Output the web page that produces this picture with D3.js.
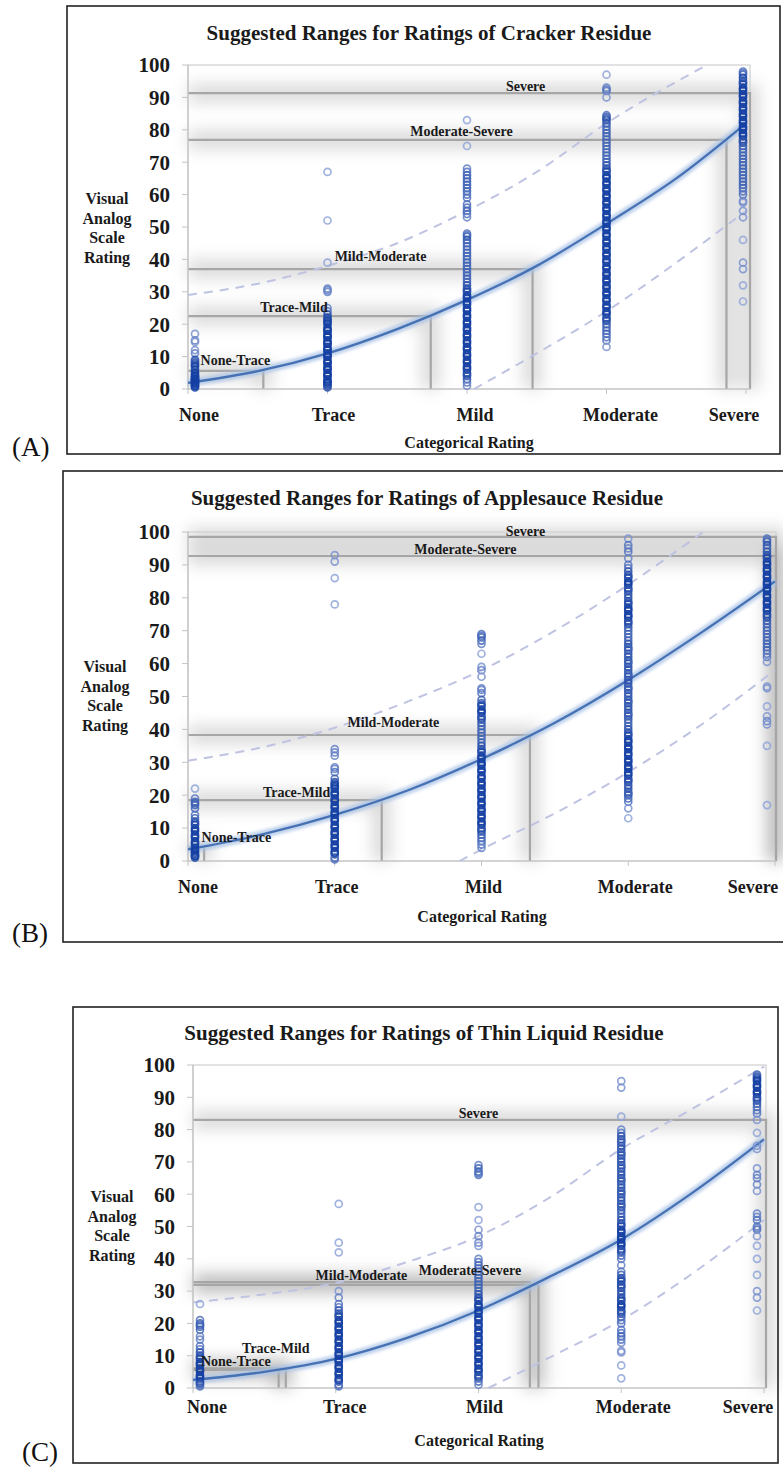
<!DOCTYPE html>
<html><head><meta charset="utf-8">
<script src="https://cdn.jsdelivr.net/npm/d3@7"></script>
<style>
body{margin:0;background:#fff}
svg{display:block}
text{font-family:"Liberation Serif","Times New Roman",serif}
</style>
</head><body>
<svg id="c" width="783" height="1473"></svg>
<script>
// ---------------- DATA ----------------
const categories = ["None", "Trace", "Mild", "Moderate", "Severe"];
const yTicks = [0, 10, 20, 30, 40, 50, 60, 70, 80, 90, 100];
const titles = ["Suggested Ranges for Ratings of Cracker Residue",
                "Suggested Ranges for Ratings of Applesauce Residue",
                "Suggested Ranges for Ratings of Thin Liquid Residue"];
const panelLetters = ["(A)", "(B)", "(C)"];
const yAxisTitle = ["Visual", "Analog", "Scale", "Rating"];
const xAxisTitle = "Categorical Rating";
const thresholdNames = ["None-Trace", "Trace-Mild", "Mild-Moderate", "Moderate-Severe", "Severe"];

// (A) Cracker
const crackerCut = [5.6, 22.5, 37, 76.9, 91.3];
const crackerCutAt = [0.54, 1.74, 2.47, 3.86, null];
const crackerLabelAt = [0.34, 0.76, 1.38, 1.96, 2.42];
const crackerLabelVal = [9.0, 25.3, 41, 79.6, 93.5];
const crackerFitX = [0, 0.5, 1, 1.5, 2, 2.5, 3, 3.5, 4];
const crackerFit = [1.9, 5.5, 11, 18.5, 27.5, 38, 51, 65, 82];
const crackerUpperX = [0, 0.5, 1, 1.5, 2, 2.5, 3, 3.72];
const crackerUpper = [29, 32.5, 38, 45, 55, 67, 82, 100];
const crackerLowerX = [2.05, 2.5, 3, 3.5, 4];
const crackerLower = [0, 11, 24, 39, 55];
const crackerNone = [17,15,14.5,12,11,9,8.5,8,7.5,7,6,5,4.5,4,3.5,3,3,2.5,2,2,1.5,1,1,0.5,3.8,2.8,1.8];
const crackerTrace = [67,52,39,31,30.5,30,25,24,23,22,21.5,21,20.5,20,19,18.5,18,17,16.5,16,15,14.5,14,13,12.5,12,11,10.5,10,9,8.5,8,7,6.5,6,5,4.5,4,3,2.5,2,1.5,1,0.5,18,16,14,12,10,8,6,4,2];
const crackerMild = [83,75,68,67,66,65,64,63,62,61,60,59,57,56,55,54,53,48,47.5,47,46,45,44,43,42,41,40,39,38,37,36,35,34,33,32,31,30,29,28,27,26,25,24,23,22,21,20,19,18,17,16,15,14,13,12,11,10,9,8,7,6,5,4,3,2,1,30.5,28.5,26.5,24.5,22.5,20.5,18.5,16.5,14.5,12.5,10.5,8.5,6.5,4.5];
const crackerModerate = [97,93,92.5,92,90,84.5,84,83.5,83,82,81,80,79,78,77,76,75,74,73,72,71,70,69,68,67,66,65,64,63,62,61,60,59,58,57,56,55,54,53,52,51,50,49,48,47,46,45,44,43,42,41,40,39,38,37,36,35,34,33,32,31,30,29,28,27,26,25,24,23,22,21,20,19,18,17,16,15,13,67.5,65.5,63.5,61.5,59.5,57.5,55.5,53.5,51.5,49.5,47.5,45.5,43.5,41.5,39.5,37.5,35.5,33.5,31.5,29.5,27.5,25.5,23.5,21.5];
const crackerSevere = [98,97.5,97,96,95,94,93,92,91,90,89,88,87,86,85,84,83,82,81,80,79,78,77,76,75,74,73,72,71,70,69,68,67,66,65,64,63,62,61,60,58,57.5,55,53,46,39,37,32,27,94.5,92.5,90.5,88.5,86.5,84.5,82.5,80.5,78.5,76.5];

// (B) Applesauce
const applesauceCut = [4.2, 18.5, 38.3, 92.7, 98.5];
const applesauceCutAt = [0.11, 1.32, 2.33, null, null];
const applesauceLabelAt = [0.33, 0.74, 1.40, 1.89, 2.30];
const applesauceLabelVal = [7.3, 21, 42.2, 94.8, 100.2];
const applesauceFitX = [0, 0.5, 1, 1.5, 2, 2.5, 3, 3.5, 4];
const applesauceFit = [3.5, 8, 14, 21.5, 31, 42, 55, 69.5, 85];
const applesauceUpperX = [0, 0.5, 1, 1.5, 2, 2.5, 3, 3.51];
const applesauceUpper = [30.5, 34.5, 40.5, 48.5, 58, 70, 84, 100];
const applesauceLowerX = [1.85, 2, 2.5, 3, 3.5, 4];
const applesauceLower = [0, 3.5, 14.5, 27, 41.5, 58];
const applesauceNone = [22,19,18,17.5,17,16,14,13,12,11,10,9,8,7,6,5,4,3,2.5,2,1.5,1,11.5,9.5,7.5,5.5,3.5,1.5];
const applesauceTrace = [93,91,86,78,34,33,32,28.5,28,27,25,24,23.5,23,22,21,20,19,18,17,16,15,14,13,12,11,10,9,8,7,6,5,4,3,2,1,0.5,22.5,20.5,18.5,16.5,14.5,12.5,10.5,8.5,6.5,4.5,2.5];
const applesauceMild = [69,68.5,68,67,66,63,59,58,56,52.5,52,51,49,48,47,46,45,44,43,42,41,40,39,38,37,36,35,34,33,32,31,30,29,28,27,26,25,24,23,22,21,20,19,18,17,16,15,14,13,12,11,10,9,8,7,6,5,4,47.5,45.5,43.5,33.5,31.5,29.5,27.5,25.5,23.5,21.5,19.5,17.5,15.5,13.5,11.5,9.5];
const applesauceModerate = [98,96,95,94,92,90,89,88,87,86,85,84,83,82,81,80,79,78,77,76,75,74,73,72,71,70,69,68,67,66,65,64,63,62,61,60,59,58,57,56,55,54,53,52,51,50,49,48,47,46,45,44,43,42,41,40,39,38,37,36,35,34,33,32,31,30,29,28,27,26,25,24,23,22,21,20,19,18,16,13,86.5,84.5,82.5,78.5,76.5,74.5,72.5,64.5,60.5,56.5,52.5,48.5,44.5,38.5,36.5,34.5,32.5,30.5,28.5,26.5,24.5,20.5];
const applesauceSevere = [98,97.5,97,96,95,94,93,92,91,90,89,88,87,86,85,84,83,82,81,80,79,78,77,76,75,74,73,72,71,70,69,68,67,66,65,64,63,62,60.5,53,52.5,47,44,42.5,41.5,35,17,92.5,90.5,88.5,86.5,84.5,82.5,80.5,78.5,76.5,74.5];

// (C) Thin liquid
const thinCut = [5.6, 6.1, 32.8, 31.9, 83];
const thinCutAt = [0.6, 0.65, 2.36, 2.42, null];
const thinLabelAt = [0.30, 0.58, 1.18, 1.94, 2.0];
const thinLabelVal = [8.4, 12.4, 35, 36.5, 85.1];
const thinFitX = [0, 0.5, 1, 1.5, 2, 2.5, 3, 3.5, 4];
const thinFit = [2.5, 5, 9, 15.5, 24, 34.5, 46, 60.5, 77];
const thinUpperX = [0, 0.5, 1, 1.5, 2, 2.5, 3, 3.5, 4];
const thinUpper = [26.5, 29, 32.5, 39, 47, 59, 74, 86.5, 99.5];
const thinLowerX = [2.07, 2.5, 3, 3.5, 4];
const thinLower = [0, 9.5, 21, 35.5, 52];
const thinNone = [26,21,20,19.5,19,18,16,15,13,12,11,10,9,8,7,6,5,4,3,2,1,0.5,9.5,7.5,5.5,3.5,1.5];
const thinTrace = [57,45,42,30,28,26,25,24,23,22,21,20,19,18,17,16,15,14,13,12,11,10,9,8,7,6,5,4,3,2,1,0.5,22.5,20.5,18.5,16.5,14.5,12.5,10.5,8.5,6.5,4.5,2.5];
const thinMild = [69,68,67,66.5,66,56,52,49,47,45,44,40,39,38,37,36,35,34,33,32,31,30,29,28,27,26,25,24,23,22,21,20,19,18,17,16,15,14,13,12,11,10,9,8,7,6,5,4,3,2,1,27.5,25.5,23.5,21.5,19.5,17.5,15.5,13.5,11.5,9.5,7.5,5.5,3.5];
const thinModerate = [95,93,84,80,79,78,77,76,75,74,73,72,71,70,69,68,67,66,65,64,63,62,61,60,59,58,57,56,55,54,53,52,51,50,49,48,47,46,45,44,43,42,41,40,38,36,35,34,33,32,31,30,29,28,27,26,25,24,23,22,21,20,18,17,16,15,14,11.5,11,7,3,76.5,72.5,68.5,64.5,60.5,56.5,50.5,48.5,46.5,44.5,42.5,33.5,31.5,27.5,25.5,23.5];
const thinSevere = [97,96.5,96,95,94,93,92,91,90,89,88,87,86,85,83,79,75,74,68,66,65,63,61,54,53,52,50,49.5,49,47,44,40,35,30,28,24,95.5,93.5,91.5,89.5];

// ---------------- LAYOUT (positions / styles only) ----------------
const panels = [
  {frame:[67,6,780,454], x0:188, x1:746, right:750, yb:389, yt:65, titleX:429, titleY:40,
   letterX:12, letterY:456, yTitleX:107, yTitleY:204, catY:421, catDx:[11,6,8,14,-12], xTitleX:469, xTitleY:448,
   cut:crackerCut, cutAt:crackerCutAt, labAt:crackerLabelAt, labVal:crackerLabelVal,
   fitX:crackerFitX, fit:crackerFit, upX:crackerUpperX, up:crackerUpper, loX:crackerLowerX, lo:crackerLower,
   pts:[crackerNone, crackerTrace, crackerMild, crackerModerate, crackerSevere], colDx:[7,0,0,0,-3]},
  {frame:[63,471,800,942], x0:188, x1:775, right:776, yb:861, yt:532, titleX:427, titleY:505,
   letterX:12, letterY:942, yTitleX:105, yTitleY:672, catY:893, catDx:[10,2,2,7,-22], xTitleX:482, xTitleY:922,
   cut:applesauceCut, cutAt:applesauceCutAt, labAt:applesauceLabelAt, labVal:applesauceLabelVal,
   fitX:applesauceFitX, fit:applesauceFit, upX:applesauceUpperX, up:applesauceUpper, loX:applesauceLowerX, lo:applesauceLower,
   pts:[applesauceNone, applesauceTrace, applesauceMild, applesauceModerate, applesauceSevere], colDx:[7,0,0,0,-8]},
  {frame:[73,1007,778,1463], x0:193, x1:764, right:766, yb:1388, yt:1065, titleX:424, titleY:1040,
   letterX:22, letterY:1461, yTitleX:112, yTitleY:1202, catY:1413, catDx:[14,9,6,12,-16], xTitleX:479, xTitleY:1446,
   cut:thinCut, cutAt:thinCutAt, labAt:thinLabelAt, labVal:thinLabelVal,
   fitX:thinFitX, fit:thinFit, upX:thinUpperX, up:thinUpper, loX:thinLowerX, lo:thinLower,
   pts:[thinNone, thinTrace, thinMild, thinModerate, thinSevere], colDx:[7,3,0,0,-7]}
];

const svg = d3.select("#c");
const defs = svg.append("defs");
defs.append("filter").attr("id","soft").attr("filterUnits","userSpaceOnUse")
  .attr("x",0).attr("y",0).attr("width",783).attr("height",1473)
  .append("feGaussianBlur").attr("stdDeviation",8);
defs.append("filter").attr("id","glow").attr("filterUnits","userSpaceOnUse")
  .attr("x",0).attr("y",0).attr("width",783).attr("height",1473)
  .append("feGaussianBlur").attr("stdDeviation",1.8);

const ptColor = d3.scaleLinear().domain([1, 7]).range(["#8fa4d8", "#143fa3"]).clamp(true);

panels.forEach((p, pi) => {
  const g = svg.append("g");
  const x = d3.scaleLinear().domain([0, 4]).range([p.x0, p.x1]);
  const y = d3.scaleLinear().domain([0, 100]).range([p.yb, p.yt]);

  // frame
  g.append("rect").attr("x", p.frame[0]).attr("y", p.frame[1])
    .attr("width", p.frame[2]-p.frame[0]).attr("height", p.frame[3]-p.frame[1])
    .attr("fill","none").attr("stroke","#222").attr("stroke-width",1.6);
  g.append("text").attr("x", p.letterX).attr("y", p.letterY)
    .attr("font-size", 27).attr("fill","#111").text(panelLetters[pi]);

  // title
  g.append("text").attr("x", p.titleX).attr("y", p.titleY).attr("text-anchor","middle")
    .attr("font-size", 21).attr("font-weight","bold").attr("fill","#1a1a1a").text(titles[pi]);

  // threshold paths
  const cutPath = (i) => {
    const xe = p.cutAt[i] == null ? p.right : x(p.cutAt[i]);
    return `M${p.x0},${y(p.cut[i])}H${xe}V${y(0)}`;
  };
  const shadows = g.append("g").attr("filter","url(#soft)");
  p.cut.forEach((c, i) => {
    shadows.append("path").attr("d", cutPath(i)).attr("fill","none")
      .attr("stroke","#000").attr("stroke-opacity",0.15).attr("stroke-width",18);
  });

  // plot frame (light)
  g.append("rect").attr("x", p.x0).attr("y", y(100)).attr("width", p.right - p.x0)
    .attr("height", y(0) - y(100)).attr("fill","none").attr("stroke","#cfcfcf").attr("stroke-width",1.2);

  p.cut.forEach((c, i) => {
    g.append("path").attr("d", cutPath(i)).attr("fill","none")
      .attr("stroke","#a6a6a6").attr("stroke-width",2.2);
  });

  // y axis
  const ya = g.append("g");
  yTicks.forEach(t => {
    ya.append("line").attr("x1", p.x0-6).attr("x2", p.x0).attr("y1", y(t)).attr("y2", y(t))
      .attr("stroke","#c4c4c4").attr("stroke-width",1);
    ya.append("text").attr("x", p.x0-18).attr("y", y(t)).attr("dy","0.35em")
      .attr("text-anchor","end").attr("font-size",21).attr("font-weight","bold").attr("fill","#1a1a1a").text(t);
  });
  ya.append("line").attr("x1", p.x0).attr("x2", p.x0).attr("y1", y(0)).attr("y2", y(100))
    .attr("stroke","#c4c4c4").attr("stroke-width",1.2);
  // x axis
  g.append("line").attr("x1", p.x0).attr("x2", p.right).attr("y1", y(0)).attr("y2", y(0))
    .attr("stroke","#c4c4c4").attr("stroke-width",1.2);
  categories.forEach((c, i) => {
    g.append("line").attr("x1", x(i)).attr("x2", x(i)).attr("y1", y(0)).attr("y2", y(0)+5)
      .attr("stroke","#c4c4c4").attr("stroke-width",1);
    g.append("text").attr("x", x(i) + p.catDx[i]).attr("y", p.catY).attr("text-anchor","middle")
      .attr("font-size",18).attr("font-weight","bold").attr("fill","#1a1a1a").text(c);
  });
  g.append("text").attr("x", p.xTitleX).attr("y", p.xTitleY).attr("text-anchor","middle")
    .attr("font-size",16).attr("font-weight","bold").attr("fill","#1a1a1a").text(xAxisTitle);
  yAxisTitle.forEach((w, k) => {
    g.append("text").attr("x", p.yTitleX).attr("y", p.yTitleY + k*19.6).attr("text-anchor","middle")
      .attr("font-size",16).attr("font-weight","bold").attr("fill","#1a1a1a").text(w);
  });

  // dashed prediction bounds
  const line = d3.line().curve(d3.curveMonotoneX).x(d => x(d[0])).y(d => y(d[1]));
  const upPts = p.upX.map((v, k) => [v, p.up[k]]);
  const loPts = p.loX.map((v, k) => [v, p.lo[k]]);
  [upPts, loPts].forEach(pts => {
    g.append("path").attr("d", line(pts)).attr("fill","none")
      .attr("stroke","#bfc3e2").attr("stroke-width",2).attr("stroke-dasharray","9,7");
  });

  // fitted curve with halo
  const fitPts = p.fitX.map((v, k) => [v, p.fit[k]]);
  g.append("path").attr("d", line(fitPts)).attr("fill","none")
    .attr("stroke","#a9c2e6").attr("stroke-width",8).attr("stroke-opacity",0.75).attr("filter","url(#glow)");
  g.append("path").attr("d", line(fitPts)).attr("fill","none")
    .attr("stroke","#4672b4").attr("stroke-width",2.3);

  // points, coloured by local density in their column
  p.pts.forEach((arr, i) => {
    g.append("g").selectAll("circle").data(arr).join("circle")
      .attr("cx", x(i) + p.colDx[i]).attr("cy", d => y(d)).attr("r", 3.5)
      .attr("fill","none")
      .attr("stroke", d => ptColor(arr.filter(v => Math.abs(v - d) <= 2.2).length))
      .attr("stroke-opacity",0.85).attr("stroke-width",1.7);
  });

  // threshold labels
  thresholdNames.forEach((n, i) => {
    g.append("text").attr("x", x(p.labAt[i])).attr("y", y(p.labVal[i])).attr("dy","0.35em")
      .attr("text-anchor","middle").attr("font-size",14).attr("font-weight","bold")
      .attr("fill","#1a1a1a").text(n);
  });
});
</script>
</body></html>
